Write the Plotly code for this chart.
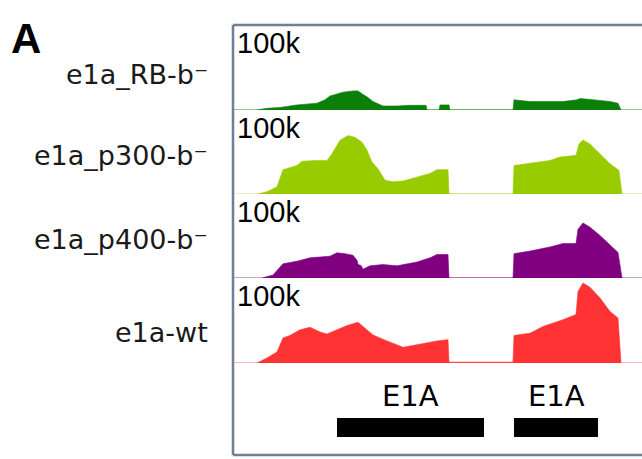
import plotly.graph_objects as go

W, H = 642, 459

# ---------------- data ----------------
track_names = ["e1a_RB-b⁻", "e1a_p300-b⁻", "e1a_p400-b⁻", "e1a-wt"]
track_colors = ["#0a7f0a", "#99cc00", "#800080", "#ff3333"]
base_colors = ["#2e8f2e", "#c4e07a", "#9a4a9a", "#ff7070"]
scale_label = "100k"

rb_pos = [24, 34, 47, 64, 84, 92, 97, 110, 120, 125, 129, 134, 140, 150, 164, 177, 193, 194,
          206, 207, 216, 217, 280, 281, 297, 330, 344, 347, 357, 377, 385, 388]
rb_val = [0, 2, 3, 6, 8, 12, 16.5, 21, 22.5, 22.5, 19, 15.5, 10, 4.7, 4.7, 5.5, 5.5, 0,
          0, 6, 6, 0, 0, 12, 10, 10, 12, 13.5, 12.5, 10, 8, 0]

p300_pos = [25, 34, 44, 50, 64, 69, 84, 94, 99, 107, 115, 122, 129, 134, 139, 145, 152, 160,
            170, 184, 197, 204, 215, 216, 280, 281, 297, 317, 327, 343, 346, 350, 357, 367,
            377, 386, 389]
p300_val = [0, 2.7, 8.6, 29, 34, 39, 40, 40, 48, 64, 69.5, 67.5, 61.5, 52, 38, 30, 16.5, 14.5,
            15.5, 20.5, 24.5, 29, 29, 0, 0, 34, 37, 40, 44, 46, 59.5, 64.3, 59.5, 48,
            36, 28, 0]

p400_pos = [29, 40, 50, 64, 77, 97, 104, 112, 120, 124, 125, 128, 130, 137, 150, 164, 184, 197,
            204, 215, 216, 280, 281, 297, 317, 330, 343, 345, 350, 357, 367, 379, 385, 389]
p400_val = [0, 3.5, 17, 20, 24, 26, 30, 29, 27, 21, 16, 15, 10.5, 14.5, 16, 14.5, 19, 24,
            28, 28, 0, 0, 29, 32, 37, 41, 41, 58, 65.5, 60.5, 50.5, 37, 30.5, 0]

wt_pos = [24, 34, 44, 50, 57, 67, 77, 87, 94, 104, 114, 125, 130, 140, 154, 170, 184, 204,
          215, 216, 280, 281, 297, 310, 330, 343, 345, 350, 357, 367, 377, 385, 388]
wt_val = [0, 6, 13, 29.5, 32.5, 39, 42, 36.5, 34, 39, 44, 48, 43, 33, 26, 18.5, 21.5, 26,
          27.5, 1, 1, 32.5, 35, 43, 51, 57, 84, 94, 89, 76.5, 60.5, 53, 0]

gene_names = ["E1A", "E1A"]
gene_starts = [104, 281]
gene_ends = [251, 365]

view_range = [0, 409]
value_max = 100

tracks = [(rb_pos, rb_val), (p300_pos, p300_val), (p400_pos, p400_val), (wt_pos, wt_val)]

# ---------------- layout geometry (pixels) ----------------
frame_left, frame_top, frame_bottom = 233, 25, 455
track_edges = [25, 110, 194, 278, 363]
label_baselines = [83, 163, 248, 340]


def py(p):
    return (H - p) / H


def px(p):
    return p / W


fig = go.Figure()
layout = dict(
    width=W, height=H, margin=dict(l=0, r=0, t=0, b=0),
    paper_bgcolor="white", plot_bgcolor="white", showlegend=False,
    xaxis=dict(domain=[px(frame_left), 1], range=view_range, visible=False, fixedrange=True),
)

for i, ((pos, val), col, bcol) in enumerate(zip(tracks, track_colors, base_colors)):
    yname = "y" if i == 0 else f"y{i + 1}"
    akey = "yaxis" if i == 0 else f"yaxis{i + 1}"
    layout[akey] = dict(domain=[py(track_edges[i + 1]), py(track_edges[i])],
                        range=[0, value_max], visible=False, anchor="x")
    fig.add_trace(go.Scatter(x=view_range, y=[0, 0], xaxis="x", yaxis=yname, mode="lines",
                             line=dict(color=bcol, width=1.2), hoverinfo="skip"))
    fig.add_trace(go.Scatter(x=pos, y=val, xaxis="x", yaxis=yname, mode="lines",
                             line=dict(color=col, width=0.6), fill="tozeroy", fillcolor=col,
                             name=track_names[i]))

# gene annotation track
layout["yaxis5"] = dict(domain=[py(frame_bottom), py(track_edges[4])], range=[0, 1],
                        visible=False, anchor="x")
fig.add_trace(go.Scatter(x=[view_range[0]], y=[0], xaxis="x", yaxis="y5", mode="markers",
                         marker=dict(opacity=0), hoverinfo="skip"))

shapes = []
annotations = []
for name, s, e in zip(gene_names, gene_starts, gene_ends):
    shapes.append(dict(type="rect", xref="x", yref="y5", x0=s, x1=e, y0=0.196, y1=0.402,
                       fillcolor="black", line=dict(width=0)))
    annotations.append(dict(xref="x", yref="y5", x=(s + e) / 2, y=0.43, yanchor="bottom",
                            xanchor="center", text=name, showarrow=False,
                            font=dict(family="DejaVu Sans", size=29, color="black")))

# frame
fcol = "#6f7f99"
shapes.append(dict(type="line", xref="paper", yref="paper", x0=px(frame_left), x1=px(frame_left),
                   y0=py(frame_top), y1=py(frame_bottom), line=dict(color=fcol, width=2.5)))
shapes.append(dict(type="line", xref="paper", yref="paper", x0=px(frame_left), x1=1,
                   y0=py(frame_top), y1=py(frame_top), line=dict(color=fcol, width=2.5)))
shapes.append(dict(type="line", xref="paper", yref="paper", x0=px(frame_left), x1=1,
                   y0=py(frame_bottom), y1=py(frame_bottom), line=dict(color=fcol, width=2.5)))

for i, name in enumerate(track_names):
    annotations.append(dict(xref="paper", yref="paper", x=px(236), y=py(track_edges[i] + 1),
                            xanchor="left", yanchor="top", text=scale_label, showarrow=False,
                            font=dict(family="Liberation Sans", size=29, color="black"),
                            borderpad=0))
    annotations.append(dict(xref="paper", yref="paper", x=px(210), y=py(label_baselines[i] - 8),
                            xanchor="right", yanchor="middle", text=name, showarrow=False,
                            font=dict(family="DejaVu Sans", size=27, color="#1a1a1a")))

annotations.append(dict(xref="paper", yref="paper", x=px(9), y=py(13), xanchor="left",
                        yanchor="top", text="<b>A</b>", showarrow=False,
                        font=dict(family="Liberation Sans", size=42, color="black")))

layout["shapes"] = shapes
layout["annotations"] = annotations
fig.update_layout(**layout)
fig.write_html("out.html", config={"displayModeBar": False},
               post_script="document.body.style.margin='0';")
